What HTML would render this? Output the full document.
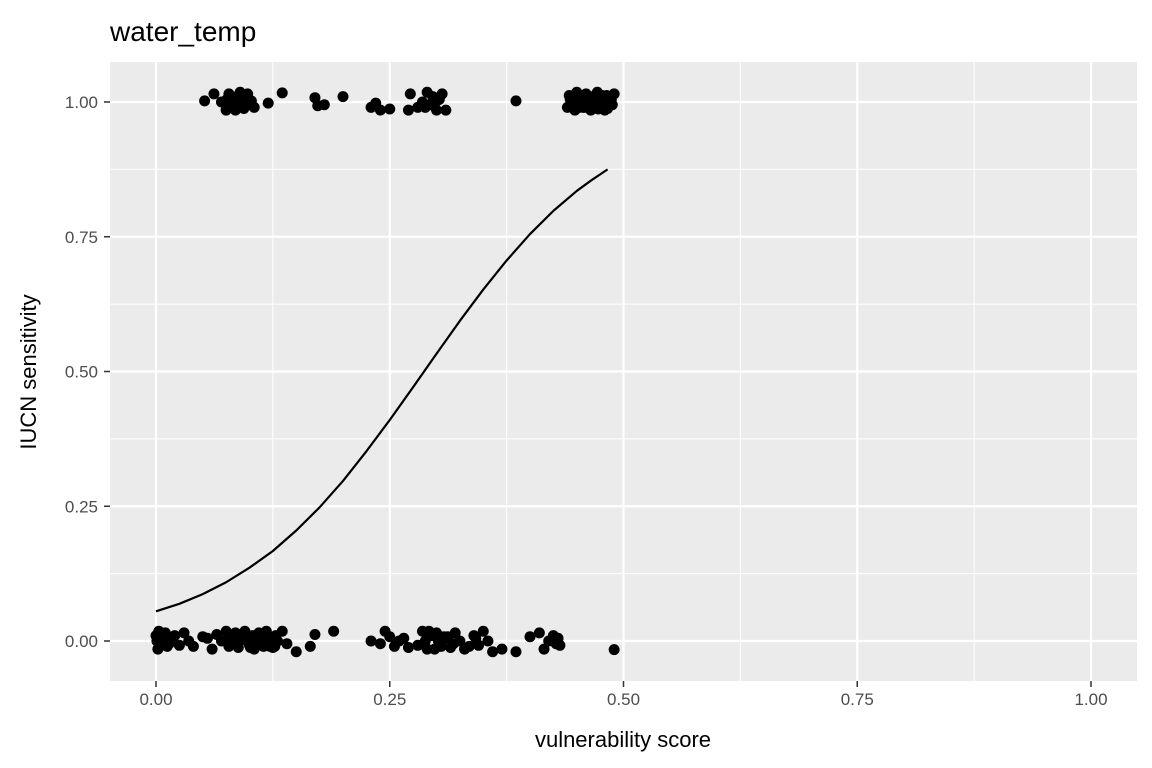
<!DOCTYPE html>
<html><head><meta charset="utf-8"><style>
body{margin:0;background:#fff;}
svg{display:block;font-family:"Liberation Sans",sans-serif;}
</style></head><body>
<svg id="chart" width="1152" height="768">
<text x="110" y="41" font-size="28" fill="#000">water_temp</text>
<rect x="110" y="62" width="1027" height="619" fill="#ebebeb"/>
<g id="grid"></g>
<g id="pts"></g>
<path id="curve" fill="none" stroke="#000" stroke-width="2.2" stroke-linejoin="round"/>
<g id="axes"></g>
<text x="623" y="747" font-size="22" text-anchor="middle">vulnerability score</text>
<text transform="translate(36,372) rotate(-90)" font-size="22" text-anchor="middle">IUCN sensitivity</text>
</svg>
<script>
const xTicks=[0,0.25,0.5,0.75,1];
const xTickLabels=["0.00","0.25","0.50","0.75","1.00"];
const yTicks=[0,0.25,0.5,0.75,1];
const yTickLabels=["0.00","0.25","0.50","0.75","1.00"];
const curveX=[0,0.025,0.05,0.075,0.1,0.125,0.15,0.175,0.2,0.225,0.25,0.275,0.3,0.325,0.35,0.375,0.4,0.425,0.45,0.465,0.483];
const curveY=[0.055,0.069,0.087,0.109,0.136,0.167,0.205,0.248,0.297,0.352,0.41,0.471,0.533,0.594,0.652,0.706,0.755,0.798,0.835,0.854,0.875];
const topX=[0.052,0.062,0.07,0.075,0.078,0.08,0.082,0.085,0.088,0.09,0.092,0.095,0.098,0.1,0.105,0.12,0.135,0.17,0.173,0.18,0.2,0.23,0.235,0.24,0.25,0.27,0.272,0.28,0.285,0.29,0.293,0.296,0.3,0.303,0.306,0.31,0.385,0.44,0.442,0.445,0.448,0.45,0.452,0.455,0.458,0.46,0.462,0.465,0.468,0.47,0.472,0.475,0.478,0.48,0.482,0.485,0.488,0.49,0.443,0.457,0.467,0.473,0.076,0.086,0.094,0.102,0.447,0.453,0.463,0.477,0.483,0.487,0.288,0.301];
const topY=[1.002,1.015,1.0,0.985,1.015,0.992,1.008,0.985,1.0,1.018,0.99,1.005,1.015,0.995,0.99,0.998,1.017,1.008,0.993,0.995,1.01,0.99,0.998,0.985,0.987,0.985,1.015,0.99,1.0,1.018,0.995,1.01,0.985,1.005,1.015,0.985,1.002,0.99,1.012,1.0,0.985,1.018,0.995,1.008,0.99,1.015,1.0,0.985,1.01,0.995,1.018,0.99,1.005,0.985,1.012,1.0,0.995,1.015,1.005,0.99,1.01,0.987,1.005,1.01,0.988,1.002,1.005,0.99,1.0,1.012,0.988,1.005,0.99,1.003];
const botX=[0,0.002,0.003,0.005,0.007,0.01,0.012,0.015,0.02,0.025,0.03,0.035,0.04,0.05,0.055,0.06,0.065,0.07,0.075,0.078,0.08,0.085,0.088,0.09,0.095,0.1,0.103,0.105,0.11,0.112,0.115,0.118,0.12,0.125,0.128,0.13,0.135,0.14,0.15,0.165,0.17,0.19,0.23,0.24,0.245,0.25,0.255,0.26,0.265,0.27,0.28,0.285,0.288,0.29,0.295,0.3,0.305,0.31,0.315,0.32,0.325,0.33,0.34,0.345,0.35,0.355,0.36,0.37,0.385,0.4,0.41,0.415,0.42,0.425,0.43,0.49,0.004,0.009,0.083,0.097,0.108,0.122,0.292,0.298,0.308,0.001,0.006,0.011,0.014,0.077,0.087,0.093,0.101,0.107,0.113,0.117,0.127,0.302,0.312,0.318,0.335,0.342,0.432,0.428];
const botY=[0.01,-0.015,0.018,-0.005,0.005,0.015,-0.01,0.0,0.01,-0.008,0.015,0.0,-0.01,0.008,0.005,-0.015,0.012,0.0,0.018,-0.01,0.005,0.015,-0.012,0.0,0.018,-0.008,0.01,-0.015,0.015,0.0,-0.01,0.018,0.005,-0.012,0.01,0.0,0.018,-0.005,-0.02,-0.01,0.012,0.018,0.0,-0.005,0.018,0.008,-0.01,0.0,0.005,-0.012,-0.008,0.018,0.0,-0.015,0.01,0.015,-0.01,0.005,-0.012,0.015,0.0,-0.015,0.01,-0.008,0.018,0.0,-0.02,-0.015,-0.02,0.008,0.015,-0.015,0.0,0.01,0.005,-0.016,-0.01,0.01,-0.005,0.008,0.005,-0.01,0.018,-0.015,0.008,0.0,-0.008,0.005,-0.005,0.008,-0.005,0.01,-0.012,0.0,0.005,-0.005,-0.01,0.0,0.008,-0.005,-0.01,0.005,-0.008,-0.005];
const X=v=>156+v*935, Y=v=>641-v*539;
const ns="http://www.w3.org/2000/svg";
const grid=document.getElementById('grid');
function mk(tag,attrs,parent){const e=document.createElementNS(ns,tag);for(const k in attrs)e.setAttribute(k,attrs[k]);parent.appendChild(e);return e;}
for(let i=0;i<xTicks.length-1;i++){const m=(xTicks[i]+xTicks[i+1])/2;const l=mk('line',{x1:X(m),x2:X(m),y1:62,y2:681,stroke:'#fff','stroke-width':1},grid);

}
for(let i=0;i<yTicks.length-1;i++){const m=(yTicks[i]+yTicks[i+1])/2;const l=mk('line',{x1:110,x2:1137,y1:Y(m),y2:Y(m),stroke:'#fff','stroke-width':1},grid);

}
const axes=document.getElementById('axes');
xTicks.forEach((t,i)=>{const l=mk('line',{x1:X(t),x2:X(t),y1:62,y2:681,stroke:'#fff','stroke-width':2.2},grid);


mk('line',{x1:X(t),x2:X(t),y1:681,y2:687,stroke:'#333','stroke-width':1.5},axes);
const tx=mk('text',{x:X(t),y:705,'font-size':17,fill:'#4d4d4d','text-anchor':'middle'},axes);tx.textContent=xTickLabels[i];

});
yTicks.forEach((t,i)=>{const l=mk('line',{x1:110,x2:1137,y1:Y(t),y2:Y(t),stroke:'#fff','stroke-width':2.2},grid);


mk('line',{x1:104,x2:110,y1:Y(t),y2:Y(t),stroke:'#333','stroke-width':1.5},axes);
const tx=mk('text',{x:98,y:Y(t)+6,'font-size':17,fill:'#4d4d4d','text-anchor':'end'},axes);tx.textContent=yTickLabels[i];

});
const pts=document.getElementById('pts');
function addPts(xs,ys,name){xs.forEach((x,i)=>{const c=mk('circle',{cx:X(x),cy:Y(ys[i]),r:5.5,fill:'#000'},pts);

});}
addPts(topX,topY,'point-sensitive');
addPts(botX,botY,'point-not-sensitive');
document.getElementById('curve').setAttribute('d',curveX.map((x,i)=>(i?'L':'M')+X(x)+','+Y(curveY[i])).join(''));
</script>
</body></html>
